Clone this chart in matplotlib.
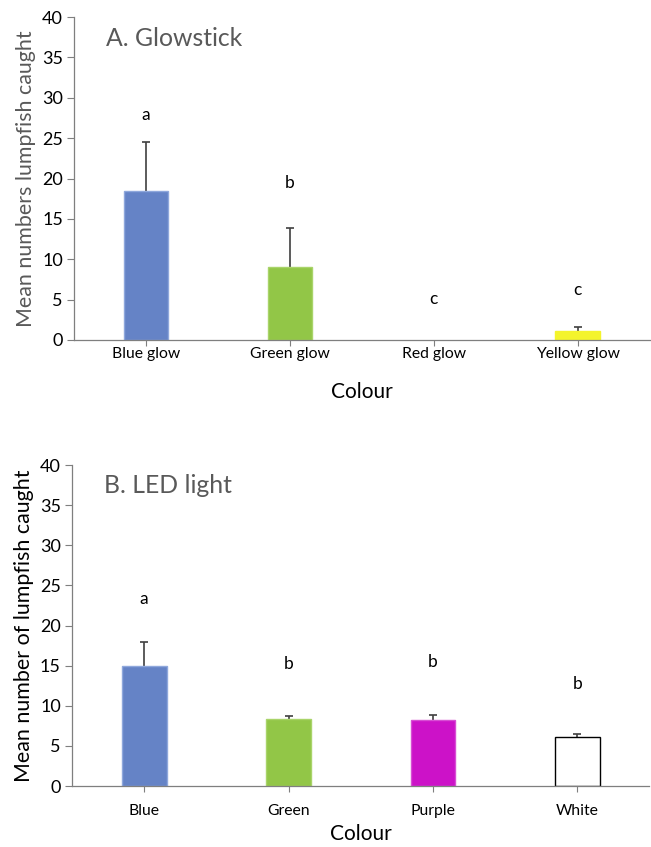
import matplotlib
matplotlib.use("Agg")
import matplotlib.pyplot as plt
import matplotlib.transforms as mtransforms
import numpy as np

plt.rcParams['font.family'] = ['Lato', 'DejaVu Sans']

# Panel A data
cats_a = ["Blue glow", "Green glow", "Red glow", "Yellow glow"]
means_a = [18.5, 9.0, 0.0, 1.15]
upper_a = [24.5, 13.9, 0.0, 1.65]
letters_a = ["a", "b", "c", "c"]
letter_y_a = [27.9, 19.4, 5.1, 6.2]
colors_a = ["#6583C6", "#92C647", "#FFFFFF", "#F4F42C"]
edges_a = ["#8FA8DC", "#A9D46A", "#FFFFFF", "#F4F42C"]

# Panel B data
cats_b = ["Blue", "Green", "Purple", "White"]
means_b = [15.0, 8.3, 8.2, 6.1]
upper_b = [18.0, 8.7, 8.8, 6.5]
letters_b = ["a", "b", "b", "b"]
letter_y_b = [23.3, 15.2, 15.4, 12.7]
colors_b = ["#6583C6", "#92C647", "#CC12C8", "#FFFFFF"]
edges_b = ["#8FA8DC", "#A9D46A", "#D84ED4", "#000000"]

yticks = [0, 5, 10, 15, 20, 25, 30, 35, 40]

fig = plt.figure(figsize=(6.51, 8.47), dpi=100)
ax1 = fig.add_axes([0.1137, 0.5986, 0.884, 0.3813])
ax2 = fig.add_axes([0.1106, 0.0720, 0.887, 0.3790])

def draw(ax, cats, means, upper, letters, ly, colors, edges, title, ylabel,
         ylcolor, xpad, xlabel_y):
    x = np.arange(len(cats))
    ax.bar(x, means, width=0.31, color=colors, edgecolor=edges, linewidth=1.0, zorder=2)
    err = [u - m for u, m in zip(upper, means)]
    for xi, m, e in zip(x, means, err):
        if e > 0:
            eb = ax.errorbar(xi, m, yerr=[[0], [e]], fmt='none', ecolor='#404040',
                             elinewidth=1.2, capsize=3, capthick=1.2, zorder=1)
            caps = eb[1]
            if len(caps) > 1:
                caps[0].set_visible(False)
    for xi, t, yy in zip(x, letters, ly):
        ax.text(xi, yy, t, ha='center', va='center', fontsize=12.5, color='black')
    ax.set_xlim(-0.5, len(cats) - 0.5)
    ax.set_ylim(0, 40)
    ax.set_yticks(yticks)
    ax.set_xticks(x)
    ax.set_xticklabels(cats, fontsize=11.3)
    ax.tick_params(axis='y', labelsize=13, length=5, width=0.8, color='#7F7F7F', pad=3)
    ax.tick_params(axis='x', length=4, width=0.8, color='#7F7F7F', pad=xpad)
    for s in ['top', 'right']:
        ax.spines[s].set_visible(False)
    for s in ['left', 'bottom']:
        ax.spines[s].set_color('#7F7F7F')
        ax.spines[s].set_linewidth(0.9)
    ax.set_xlabel("Colour", fontsize=15)
    tr = mtransforms.blended_transform_factory(ax.transAxes, fig.transFigure)
    ax.xaxis.set_label_coords(0.5, xlabel_y, transform=tr)
    ax.xaxis.label.set_va('center')
    ax.set_ylabel(ylabel, fontsize=15.4, color=ylcolor, labelpad=4)
    ax.text(0.055, 0.935, title, transform=ax.transAxes, fontsize=17.8,
            color='#595959', ha='left', va='center')

draw(ax1, cats_a, means_a, upper_a, letters_a, letter_y_a, colors_a, edges_a,
     "A. Glowstick", "Mean numbers lumpfish caught", '#595959', 1, 1 - 392 / 847)
draw(ax2, cats_b, means_b, upper_b, letters_b, letter_y_b, colors_b, edges_b,
     "B. LED light", "Mean number of lumpfish caught", 'black', 9, 1 - 834 / 847)

fig.savefig("out.png", dpi=100)
